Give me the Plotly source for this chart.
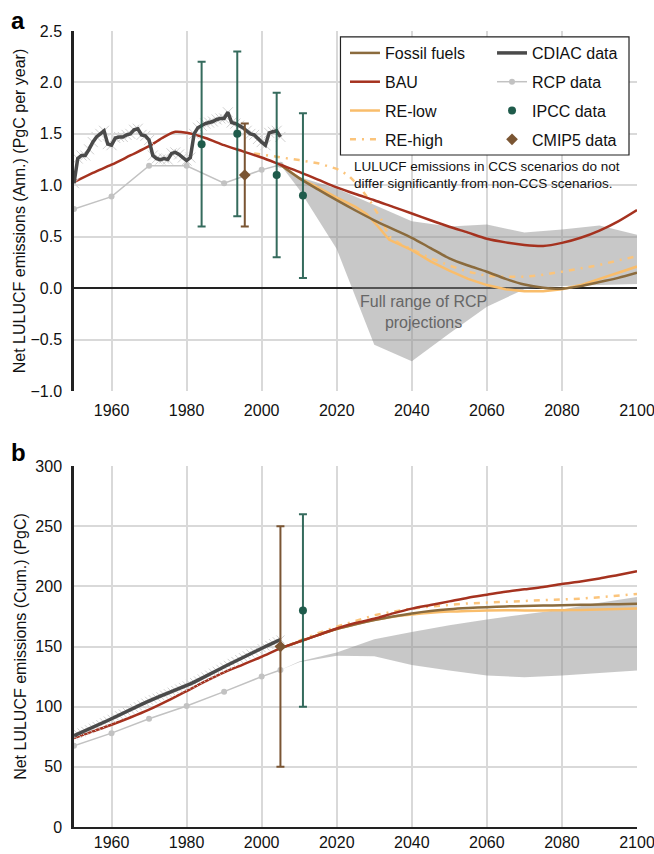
import plotly.graph_objects as go

FONT = "Liberation Sans, Arial, Helvetica, sans-serif"

# ---------------- Panel a : annual net LULUCF emissions (PgC per year) ----------------
cdiac_years = list(range(1950, 2006))
cdiac_annual = [1.02, 1.26, 1.29, 1.29, 1.35, 1.42, 1.47, 1.50, 1.53, 1.40,
                1.39, 1.46, 1.47, 1.47, 1.49, 1.50, 1.54, 1.55, 1.49, 1.48,
                1.44, 1.29, 1.26, 1.25, 1.26, 1.25, 1.31, 1.32, 1.30, 1.27,
                1.24, 1.27, 1.50, 1.56, 1.58, 1.60, 1.61, 1.62, 1.64, 1.65,
                1.65, 1.71, 1.61, 1.60, 1.58, 1.56, 1.53, 1.50, 1.49, 1.45,
                1.42, 1.39, 1.51, 1.52, 1.53, 1.47]

rcp_hist_years = [1950, 1960, 1970, 1980, 1990, 2000, 2005]
rcp_hist_annual = [0.77, 0.89, 1.19, 1.19, 1.02, 1.15, 1.20]

bau_years_a = [1950, 1955, 1960, 1965, 1970, 1974, 1977, 1980, 1985, 1990, 1995, 2000,
               2005, 2010, 2015, 2020, 2025, 2030, 2035, 2040, 2045, 2050, 2055, 2060,
               2065, 2070, 2075, 2080, 2085, 2090, 2095, 2100]
bau_annual = [1.03, 1.12, 1.20, 1.29, 1.38, 1.47, 1.52, 1.51, 1.46, 1.39, 1.33, 1.27,
              1.20, 1.13, 1.055, 0.98, 0.915, 0.855, 0.79, 0.726, 0.66, 0.597, 0.54, 0.48,
              0.445, 0.42, 0.41, 0.44, 0.49, 0.56, 0.65, 0.76]

scen_years = [2005, 2010, 2015, 2020, 2025, 2030, 2035, 2040, 2045, 2050,
              2055, 2060, 2065, 2070, 2075, 2080, 2085, 2090, 2095, 2100]
fossil_annual = [1.20, 1.07, 0.96, 0.855, 0.755, 0.66, 0.575, 0.49, 0.39, 0.29,
                 0.22, 0.16, 0.09, 0.035, 0.005, -0.005, 0.02, 0.06, 0.10, 0.15]

relow_years_a = [2005, 2010, 2015, 2020, 2025, 2028, 2031, 2034, 2037, 2040, 2045,
                 2050, 2055, 2060, 2065, 2070, 2075, 2080, 2085, 2090, 2095, 2100]
relow_annual = [1.20, 1.07, 0.98, 0.88, 0.79, 0.72, 0.60, 0.47, 0.42, 0.37, 0.26,
                0.17, 0.09, 0.03, -0.01, -0.03, -0.03, -0.01, 0.03, 0.09, 0.15, 0.21]

rehigh_years_a = [1998, 2000, 2005, 2010, 2015, 2020, 2023, 2026, 2029, 2032, 2034, 2037,
                  2040, 2045, 2050, 2055, 2060, 2065, 2070, 2075, 2080, 2085, 2090, 2095, 2100]
rehigh_annual = [1.31, 1.30, 1.27, 1.245, 1.215, 1.16, 1.10, 0.99, 0.84, 0.66, 0.50, 0.43,
                 0.38, 0.29, 0.22, 0.16, 0.12, 0.11, 0.11, 0.13, 0.16, 0.19, 0.225, 0.27, 0.31]

fan_years = [2005, 2010, 2020, 2030, 2040, 2050, 2060, 2070, 2080, 2090, 2100]
fan_upper_a = [1.20, 1.08, 0.97, 0.81, 0.65, 0.60, 0.62, 0.54, 0.57, 0.61, 0.52]
fan_lower_a = [1.20, 0.96, 0.38, -0.55, -0.71, -0.44, -0.18, -0.01, 0.02, 0.03, 0.04]

ipcc_years_a = [1984, 1993.5, 2004, 2011]
ipcc_annual = [1.4, 1.5, 1.1, 0.9]
ipcc_err_a = [0.8, 0.8, 0.8, 0.8]
cmip5_years_a = [1995.5]
cmip5_annual = [1.1]
cmip5_err_a = [0.5]

# ---------------- Panel b : cumulative net LULUCF emissions (PgC) ----------------
cdiac_cum = [76.0, 77.3, 78.6, 79.9, 81.2, 82.6, 84.0, 85.5, 87.0, 88.5,
             90.0, 91.4, 92.9, 94.4, 95.9, 97.4, 98.9, 100.4, 101.9, 103.4,
             104.9, 106.2, 107.5, 108.7, 110.0, 111.2, 112.5, 113.8, 115.1, 116.4,
             117.7, 119.0, 120.4, 121.9, 123.5, 125.1, 126.7, 128.3, 129.9, 131.5,
             133.2, 134.8, 136.4, 138.0, 139.6, 141.2, 142.7, 144.2, 145.7, 147.2,
             148.6, 150.0, 151.4, 152.9, 154.4, 155.8]
rcp_hist_cum = [67.5, 78.0, 90.0, 100.5, 112.5, 125.0, 130.5]

bau_years_b = [1950, 1955, 1960, 1965, 1970, 1975, 1980, 1985, 1990, 1995, 2000,
               2005, 2010, 2015, 2020, 2025, 2030, 2035, 2040, 2045, 2050,
               2055, 2060, 2065, 2070, 2075, 2080, 2085, 2090, 2095, 2100]
bau_cum = [74, 79.5, 85, 91, 97.5, 105, 113, 121, 128.5, 135, 141.5,
           148.5, 154, 159.5, 165, 169.5, 173, 177.5, 181.5, 184.5, 187.5,
           190.5, 193, 195.5, 197.5, 199.5, 202, 204, 206.5, 209.5, 212.5]
fossil_cum = [148.5, 154, 159.5, 164.5, 168.5, 172, 175, 177.5, 179.5, 181,
              182, 182.7, 183.3, 183.7, 184, 184.3, 184.6, 184.9, 185.2, 185.5]
relow_cum = [148.5, 154, 159.5, 164.5, 168.5, 172, 174.8, 176.6, 178, 179,
             179.6, 180, 180.1, 180, 180, 180.2, 180.4, 180.8, 181.2, 181.6]
rehigh_cum = [148.5, 155, 161, 166.5, 171.5, 176, 179, 181.5, 183.3, 184.8,
              185.8, 186.5, 187.1, 187.6, 188.2, 188.9, 189.8, 190.9, 192.2, 193.7]

fan_upper_b = [130.5, 137.5, 145, 156, 162, 167.6, 172.5, 176.6, 180.8, 186.3, 191.2]
fan_lower_b = [130.5, 137, 142.3, 142, 134.6, 130, 126, 124.5, 125.8, 128, 130]

ipcc_years_b = [2011]
ipcc_cum = [180]
ipcc_err_b = [80]
cmip5_years_b = [2005]
cmip5_cum = [150]
cmip5_err_b = [100]

x_ticks = [1960, 1980, 2000, 2020, 2040, 2060, 2080, 2100]

# ---------------- styles ----------------
C_FOSSIL = "#8b6b3d"
C_BAU = "#a5321f"
C_RELOW = "#f9bd6b"
C_REHIGH = "#fbc47b"
C_CDIAC = "#4a4a4a"
C_CDIAC_X = "#d0d0d0"
C_RCP = "#c2c2c2"
C_IPCC = "#1f5b4b"
C_CMIP5 = "#7a5533"
C_FAN = "rgba(140,140,140,0.48)"

fig = go.Figure()


def add_panel(xa, ya, first, d):
    # RCP projection fan
    fig.add_trace(go.Scatter(
        x=fan_years + fan_years[::-1], y=d["fan_up"] + d["fan_lo"][::-1],
        fill="toself", fillcolor=C_FAN, line=dict(width=0), mode="lines",
        hoverinfo="skip", showlegend=False, xaxis=xa, yaxis=ya))
    # RCP historical data
    fig.add_trace(go.Scatter(
        x=rcp_hist_years, y=d["rcp"], mode="lines+markers", name="RCP data",
        line=dict(color=C_RCP, width=1.5), marker=dict(color=C_RCP, size=6),
        legend="legend2", legendgroup="rcp", legendrank=2, showlegend=first,
        xaxis=xa, yaxis=ya))
    # scenarios
    fig.add_trace(go.Scatter(
        x=d["rehigh_x"], y=d["rehigh"], mode="lines", name="RE-high",
        line=dict(color=C_REHIGH, width=2.5, dash="6px,6px,2px,6px"),
        legend="legend", legendgroup="rehigh", legendrank=4, showlegend=first,
        xaxis=xa, yaxis=ya))
    fig.add_trace(go.Scatter(
        x=d["relow_x"], y=d["relow"], mode="lines", name="RE-low",
        line=dict(color=C_RELOW, width=2.5, shape=d["relow_shape"]),
        legend="legend", legendgroup="relow", legendrank=3, showlegend=first,
        xaxis=xa, yaxis=ya))
    fig.add_trace(go.Scatter(
        x=scen_years, y=d["fossil"], mode="lines", name="Fossil fuels",
        line=dict(color=C_FOSSIL, width=2.5, shape="spline", smoothing=0.8),
        legend="legend", legendgroup="fossil", legendrank=1, showlegend=first,
        xaxis=xa, yaxis=ya))
    fig.add_trace(go.Scatter(
        x=d["bau_x"], y=d["bau"], mode="lines", name="BAU",
        line=dict(color=C_BAU, width=2.5, shape="spline", smoothing=0.8),
        legend="legend", legendgroup="bau", legendrank=2, showlegend=first,
        xaxis=xa, yaxis=ya))
    # CDIAC data
    fig.add_trace(go.Scatter(
        x=cdiac_years, y=d["cdiac"], mode="markers",
        marker=dict(symbol="x-thin-open", size=d["xsize"], color=C_CDIAC_X,
                    line=dict(color=C_CDIAC_X, width=1)),
        legendgroup="cdiac", showlegend=False, hoverinfo="skip", xaxis=xa, yaxis=ya))
    fig.add_trace(go.Scatter(
        x=cdiac_years, y=d["cdiac"], mode="lines", name="CDIAC data",
        line=dict(color=C_CDIAC, width=3.5),
        legend="legend2", legendgroup="cdiac", legendrank=1, showlegend=first,
        xaxis=xa, yaxis=ya))
    # CMIP5 and IPCC estimates
    fig.add_trace(go.Scatter(
        x=d["cmip5_x"], y=d["cmip5"], mode="markers", name="CMIP5 data",
        marker=dict(symbol="diamond", size=9, color=C_CMIP5),
        error_y=dict(type="data", array=d["cmip5_err"], color=C_CMIP5, thickness=2, width=4),
        legend="legend2", legendgroup="cmip5", legendrank=4, showlegend=first,
        xaxis=xa, yaxis=ya))
    fig.add_trace(go.Scatter(
        x=d["ipcc_x"], y=d["ipcc"], mode="markers", name="IPCC data",
        marker=dict(symbol="circle", size=8, color=C_IPCC),
        error_y=dict(type="data", array=d["ipcc_err"], color="rgba(31,91,75,0.9)",
                     thickness=2, width=4),
        legend="legend2", legendgroup="ipcc", legendrank=3, showlegend=first,
        xaxis=xa, yaxis=ya))


add_panel("x", "y", True, dict(
    fan_up=fan_upper_a, fan_lo=fan_lower_a, rcp=rcp_hist_annual,
    rehigh_x=rehigh_years_a, rehigh=rehigh_annual,
    relow_x=relow_years_a, relow=relow_annual, relow_shape="linear",
    fossil=fossil_annual, bau_x=bau_years_a, bau=bau_annual,
    cdiac=cdiac_annual, xsize=10,
    cmip5_x=cmip5_years_a, cmip5=cmip5_annual, cmip5_err=cmip5_err_a,
    ipcc_x=ipcc_years_a, ipcc=ipcc_annual, ipcc_err=ipcc_err_a))

add_panel("x2", "y2", False, dict(
    fan_up=fan_upper_b, fan_lo=fan_lower_b, rcp=rcp_hist_cum,
    rehigh_x=scen_years, rehigh=rehigh_cum,
    relow_x=scen_years, relow=relow_cum, relow_shape="spline",
    fossil=fossil_cum, bau_x=bau_years_b, bau=bau_cum,
    cdiac=cdiac_cum, xsize=8,
    cmip5_x=cmip5_years_b, cmip5=cmip5_cum, cmip5_err=cmip5_err_b,
    ipcc_x=ipcc_years_b, ipcc=ipcc_cum, ipcc_err=ipcc_err_b))

GRID = "#d9d9d9"
TICKFONT = dict(family=FONT, size=16, color="#111111")

xcommon = dict(range=[1950, 2100], tickvals=x_ticks, showgrid=True, gridcolor=GRID,
               gridwidth=1.5, zeroline=False, ticks="", tickfont=TICKFONT,
               ticklabeloverflow="allow", automargin=False, fixedrange=True)
ycommon = dict(showgrid=True, gridcolor=GRID, gridwidth=1.5, ticks="", tickfont=TICKFONT,
               showline=True, linecolor="#222222", linewidth=2.5, ticklabelstandoff=6,
               automargin=False, fixedrange=True)

fig.update_layout(
    template="none",
    width=654, height=854,
    margin=dict(l=74, r=17, t=31, b=27),
    paper_bgcolor="white", plot_bgcolor="white",
    font=dict(family=FONT, color="#111111"),
    xaxis=dict(**xcommon, anchor="y", domain=[0, 1], showline=False, ticklabelstandoff=8),
    yaxis=dict(**ycommon, anchor="x", domain=[0.5477, 1], range=[-1, 2.5], dtick=0.5,
               tick0=-1, tickformat=".1f", zeroline=True, zerolinecolor="#222222",
               zerolinewidth=2,
               title=dict(text="Net LULUCF emissions (Ann.) (PgC per year)",
                          font=dict(family=FONT, size=16, color="#111111"), standoff=1)),
    xaxis2=dict(**xcommon, anchor="y2", domain=[0, 1], showline=True,
                linecolor="#222222", linewidth=2, ticklabelstandoff=0),
    yaxis2=dict(**ycommon, anchor="x2", domain=[0, 0.4535], range=[0, 300], dtick=50,
                zeroline=False,
                title=dict(text="Net LULUCF emissions (Cum.) (PgC)",
                           font=dict(family=FONT, size=16, color="#111111"), standoff=5)),
    legend=dict(x=0.4813, y=0.9937, xanchor="left", yanchor="top",
                bgcolor="rgba(0,0,0,0)", borderwidth=0, tracegroupgap=5, itemwidth=30,
                font=dict(family=FONT, size=16, color="#111111")),
    legend2=dict(x=0.7425, y=0.9937, xanchor="left", yanchor="top",
                 bgcolor="rgba(0,0,0,0)", borderwidth=0, tracegroupgap=5, itemwidth=30,
                 font=dict(family=FONT, size=16, color="#111111")),
    showlegend=True,
    shapes=[dict(type="rect", xref="paper", yref="paper", x0=0.4733, x1=0.9858,
                 y0=0.8442, y1=0.9925, fillcolor="white",
                 line=dict(color="#222222", width=1.2), layer="above")],
    annotations=[
        dict(text="<b>a</b>", xref="paper", yref="paper", x=-0.0996, y=1.0138,
             xanchor="center", yanchor="middle", showarrow=False,
             font=dict(family=FONT, size=24, color="#000000")),
        dict(text="<b>b</b>", xref="paper", yref="paper", x=-0.0978, y=0.471,
             xanchor="center", yanchor="middle", showarrow=False,
             font=dict(family=FONT, size=24, color="#000000")),
        dict(text="LULUCF emissions in CCS scenarios do not", xref="paper", yref="paper",
             x=0.4938, y=0.8304, xanchor="left", yanchor="middle", showarrow=False,
             font=dict(family=FONT, size=13.5, color="#111111")),
        dict(text="differ significantly from non-CCS scenarios.", xref="paper", yref="paper",
             x=0.4938, y=0.809, xanchor="left", yanchor="middle", showarrow=False,
             font=dict(family=FONT, size=13.5, color="#111111")),
        dict(text="Full range of RCP<br>projections", xref="x", yref="y",
             x=2043, y=-0.235, xanchor="center", yanchor="middle", showarrow=False,
             align="center", font=dict(family=FONT, size=16, color="#666666")),
    ],
)

fig.write_html("out.html")
